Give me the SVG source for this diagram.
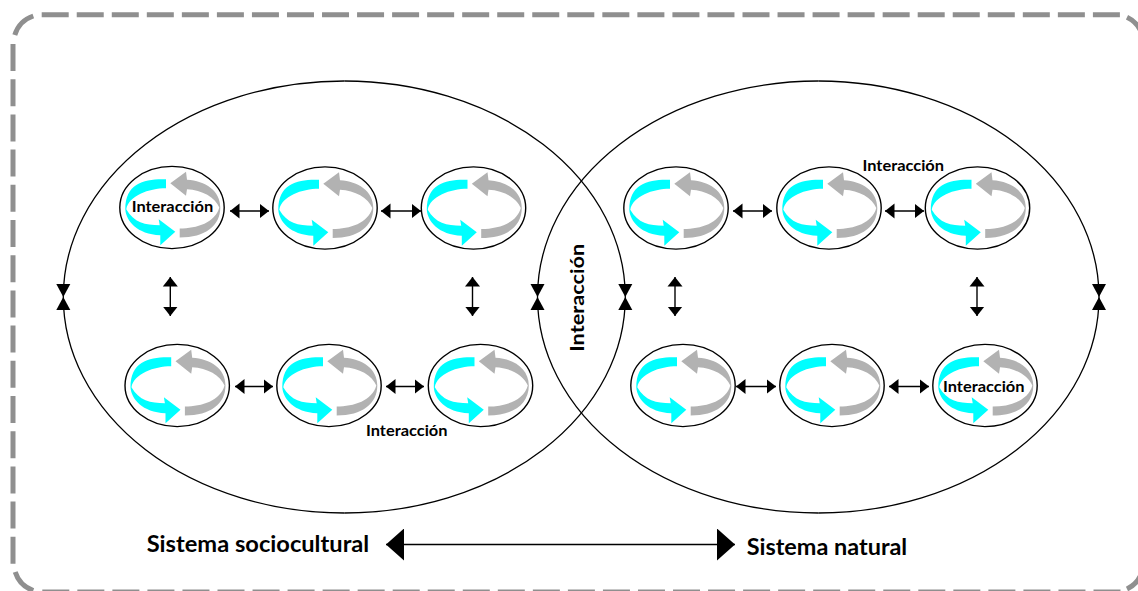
<svg xmlns="http://www.w3.org/2000/svg" width="1138" height="591" viewBox="0 0 1138 591">
<style>
.t{font-family:"Lato","Open Sans","Liberation Sans",sans-serif;font-weight:700;fill:#000}
.s{font-size:14.5px}
.b{font-size:22.5px}
.line{fill:none;stroke:#000;stroke-width:1.4}
.big{fill:none;stroke:#000;stroke-width:1.3}
.n{fill:#fff;stroke:#000;stroke-width:1.4}
.small{marker-start:url(#hs);marker-end:url(#he)}
.bow{marker-end:url(#bow)}
.fr{fill:none;stroke:#8f8f8f;stroke-width:5}
.d{stroke-dasharray:27 8.04}
</style>
<defs>
<marker id="he" markerUnits="userSpaceOnUse" markerWidth="10" markerHeight="16" refX="9.5" refY="8" orient="auto"><path d="M0,0.5L9.5,8L0,15.5z" fill="#000"/></marker>
<marker id="hs" markerUnits="userSpaceOnUse" markerWidth="10" markerHeight="16" refX="0" refY="8" orient="auto"><path d="M9.5,0.5L0,8L9.5,15.5z" fill="#000"/></marker>
<marker id="bow" markerUnits="userSpaceOnUse" markerWidth="14" markerHeight="16" refX="13" refY="8" orient="auto"><path d="M0,1L13,8L0,15z" fill="#000"/></marker>
<marker id="be" markerUnits="userSpaceOnUse" markerWidth="19" markerHeight="34" refX="18" refY="16" orient="auto"><path d="M0,0L18,16L0,32z" fill="#000"/></marker>
<marker id="bs" markerUnits="userSpaceOnUse" markerWidth="19" markerHeight="34" refX="0" refY="16" orient="auto"><path d="M18,0L0,16L18,32z" fill="#000"/></marker>
<g id="swirl">
<ellipse class="n" rx="52.2" ry="41.1"/>
<path fill="#00ffff" d="M-6,-28.3C-26.7,-29 -46.7,-25 -46.7,1.7C-46,13.3 -35,26.7 -11.7,27.7L-11.7,37.7L3.3,24.3L-13.3,11.7L-12.3,17.7C-26.7,17.7 -38.3,15 -45.7,1.7C-43.3,-11.7 -23.3,-19.3 -6,-19.3z"/>
<path fill="#b2b2b2" d="M-1.7,-24.3L14,-35.7L15,-27.7C33.3,-26.7 48.3,-16.7 48.3,0C48.3,18.3 33.3,30 7.7,30L7.7,21C25,21 43.3,15 47.3,0C43.3,-10 30,-17.7 15,-18.3L14,-11.7z"/>
</g>
</defs>
<g id="frame">
<path class="fr d" d="M41.7,14.7H1121"/>
<path class="fr" d="M14.8,35A29,29 0 0 1 33.3,16"/>
<path class="fr" d="M1127,17.3A29,29 0 0 1 1143,38"/>
<path class="fr" style="stroke-dasharray:27 8.2" d="M13,44V564"/>
<path class="fr" d="M15.2,572A29,29 0 0 0 33.3,590.5"/>
<path class="fr d" d="M42.3,592H1121"/>
<path class="fr" d="M1127,589A29,29 0 0 0 1143,567"/>
</g>
<g id="connectors">
<path class="big bow" d="M344.3,81A281,216 0 0 0 63.3,297"/>
<path class="big bow" d="M344.3,513A281,216 0 0 1 63.3,297"/>
<path class="big bow" d="M344.3,81A281,216 0 0 1 625.3,297"/>
<path class="big bow" d="M344.3,513A281,216 0 0 0 625.3,297"/>
<path class="big bow" d="M818.3,81A280.8,216 0 0 0 537.5,297"/>
<path class="big bow" d="M818.3,513A280.8,216 0 0 1 537.5,297"/>
<path class="big bow" d="M818.3,81A280.8,216 0 0 1 1099,297"/>
<path class="big bow" d="M818.3,513A280.8,216 0 0 0 1099,297"/>
<path class="line small" d="M230,211H269"/>
<path class="line small" d="M381,211H421"/>
<path class="line small" d="M733,211H772"/>
<path class="line small" d="M885,211H924"/>
<path class="line small" d="M235,386.5H273"/>
<path class="line small" d="M386,386.5H424"/>
<path class="line small" d="M736,386.5H776"/>
<path class="line small" d="M889,386.5H929"/>
<path class="line small" d="M170.3,277V316"/>
<path class="line small" d="M472.5,277V316"/>
<path class="line small" d="M675,277V316"/>
<path class="line small" d="M977,277V316"/>
<path d="M386,544.5H735" fill="none" stroke="#000" stroke-width="1.4" marker-start="url(#bs)" marker-end="url(#be)"/>
</g>
<g id="n1"><use href="#swirl" x="172" y="207.5"/><text class="t s" x="131.7" y="211.7" textLength="81.5" lengthAdjust="spacingAndGlyphs">Interacción</text></g>
<g id="n2"><use href="#swirl" x="325" y="208"/></g>
<g id="n3"><use href="#swirl" x="473.5" y="208"/></g>
<g id="n4"><use href="#swirl" x="177.2" y="385.5"/></g>
<g id="n5"><use href="#swirl" x="329" y="385.5"/></g>
<g id="n6"><use href="#swirl" x="480.5" y="385.5"/></g>
<g id="n7"><use href="#swirl" x="676" y="208"/></g>
<g id="n8"><use href="#swirl" x="829" y="208"/></g>
<g id="n9"><use href="#swirl" x="977.5" y="208"/></g>
<g id="n10"><use href="#swirl" x="683" y="385.5"/></g>
<g id="n11"><use href="#swirl" x="832" y="385.5"/></g>
<g id="n12"><use href="#swirl" x="985" y="385.5"/><text class="t s" x="943" y="391.5" textLength="81.5" lengthAdjust="spacingAndGlyphs">Interacción</text></g>
<text class="t s" x="862.5" y="171" textLength="81.5" lengthAdjust="spacingAndGlyphs">Interacción</text>
<text class="t s" x="366" y="436" textLength="81.5" lengthAdjust="spacingAndGlyphs">Interacción</text>
<text class="t" font-size="19" transform="translate(584.3,351.7) rotate(-90)" textLength="108" lengthAdjust="spacingAndGlyphs">Interacción</text>
<text class="t b" x="146.7" y="551.7" textLength="222.5" lengthAdjust="spacingAndGlyphs">Sistema sociocultural</text>
<text class="t b" x="746.7" y="555" textLength="160.5" lengthAdjust="spacingAndGlyphs">Sistema natural</text>
</svg>
